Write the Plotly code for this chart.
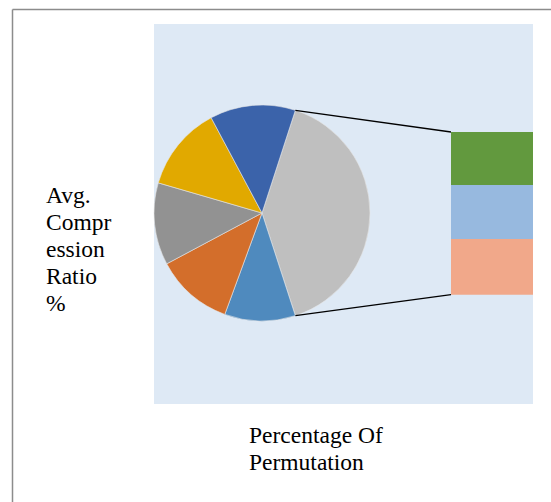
import math
import plotly.graph_objects as go

# ---- data -------------------------------------------------------------
categories = ["P1", "P2", "P3", "P4", "P5", "P6", "P7", "P8"]
ratios = [10.6, 11.6, 12.3, 12.7, 12.8, 13.0, 13.3, 13.7]
colors = ["#4F8ABE", "#D36E2B", "#929292", "#E1A900",
          "#3B63AA", "#62993E", "#97B9DF", "#F1A88A"]
other_color = "#BFBFBF"
n_split = 3  # last items moved to the stacked bar

y_title_lines = ["Avg.", "Compr", "ession", "Ratio", "%"]
x_title_lines = ["Percentage Of", "Permutation"]

# ---- geometry (pixels) ---------------------------------------------------
W, H = 551, 502
plot_box = (154, 24, 533, 404)      # x0, y0, x1, y1
pie_box = (154, 105, 370, 321)
bar_box = (451, 132, 533, 294.7)


def px(x):
    return x / W


def py(y):
    return 1 - y / H


main_vals = ratios[:-n_split]
split_vals = ratios[-n_split:]
other_val = sum(split_vals)
total = sum(ratios)

# "Other" slice centred on 3 o'clock
rotation = 90 - 360 * other_val / total / 2

fig = go.Figure()

fig.add_trace(go.Pie(
    labels=["Other"] + categories[:-n_split],
    values=[other_val] + main_vals,
    marker=dict(colors=[other_color] + colors[:-n_split],
                line=dict(color="#E6E6E6", width=0.6)),
    sort=False,
    direction="clockwise",
    rotation=rotation,
    textinfo="none",
    hoverinfo="label+value",
    showlegend=False,
    domain=dict(x=[px(pie_box[0]), px(pie_box[2])],
                y=[py(pie_box[3]), py(pie_box[1])]),
))

# stacked bar for the split items (last item at the bottom)
for cat, val, col in reversed(list(zip(categories[-n_split:], split_vals,
                                       colors[-n_split:]))):
    fig.add_trace(go.Bar(
        x=["Other"], y=[val], name=cat,
        marker=dict(color=col, line=dict(width=0)),
        showlegend=False, hoverinfo="name+y",
    ))

# connector lines from the "Other" slice edges to the bar corners
cx = (pie_box[0] + pie_box[2]) / 2
cy = (pie_box[1] + pie_box[3]) / 2
r = (pie_box[2] - pie_box[0]) / 2
a0 = math.radians(rotation)
a1 = math.radians(rotation + 360 * other_val / total)
p_top = (cx + r * math.sin(a0), cy - r * math.cos(a0))
p_bot = (cx + r * math.sin(a1), cy - r * math.cos(a1))

shapes = [
    # plot area fill
    dict(type="rect", xref="paper", yref="paper", layer="below",
         x0=px(plot_box[0]), x1=px(plot_box[2]),
         y0=py(plot_box[3]), y1=py(plot_box[1]),
         fillcolor="#DEE9F5", line=dict(width=0)),
    # chart border (left and top edges)
    dict(type="line", xref="paper", yref="paper",
         x0=px(12.5), x1=px(12.5), y0=py(9.5), y1=0,
         line=dict(color="#8C8C8C", width=1.5)),
    dict(type="line", xref="paper", yref="paper",
         x0=px(12.5), x1=1, y0=py(9.5), y1=py(9.5),
         line=dict(color="#8C8C8C", width=1.5)),
    dict(type="line", xref="paper", yref="paper",
         x0=px(p_top[0]), y0=py(p_top[1]),
         x1=px(bar_box[0]), y1=py(bar_box[1]),
         line=dict(color="#000000", width=1.3)),
    dict(type="line", xref="paper", yref="paper",
         x0=px(p_bot[0]), y0=py(p_bot[1]),
         x1=px(bar_box[0]), y1=py(bar_box[3]),
         line=dict(color="#000000", width=1.3)),
]

font = dict(family="Liberation Serif, Times New Roman, serif",
            size=23.5, color="#000000")
annotations = []
for i, line in enumerate(y_title_lines):
    annotations.append(dict(
        text=line, xref="paper", yref="paper", showarrow=False,
        x=px(44), y=py(195 + 27 * i), xanchor="left", yanchor="middle",
        font=font))
for i, line in enumerate(x_title_lines):
    annotations.append(dict(
        text=line, xref="paper", yref="paper", showarrow=False,
        x=px(247), y=py(435 + 27 * i), xanchor="left", yanchor="middle",
        font=font))

fig.update_layout(
    width=W, height=H,
    margin=dict(l=0, r=0, t=0, b=0),
    paper_bgcolor="#FFFFFF",
    plot_bgcolor="rgba(0,0,0,0)",
    barmode="stack",
    bargap=0,
    xaxis=dict(domain=[px(bar_box[0]), px(bar_box[2])], visible=False,
               fixedrange=True),
    yaxis=dict(domain=[py(bar_box[3]), py(bar_box[1])], visible=False,
               range=[0, other_val], fixedrange=True),
    shapes=shapes,
    annotations=annotations,
    showlegend=False,
)

fig.write_html("out.html")
